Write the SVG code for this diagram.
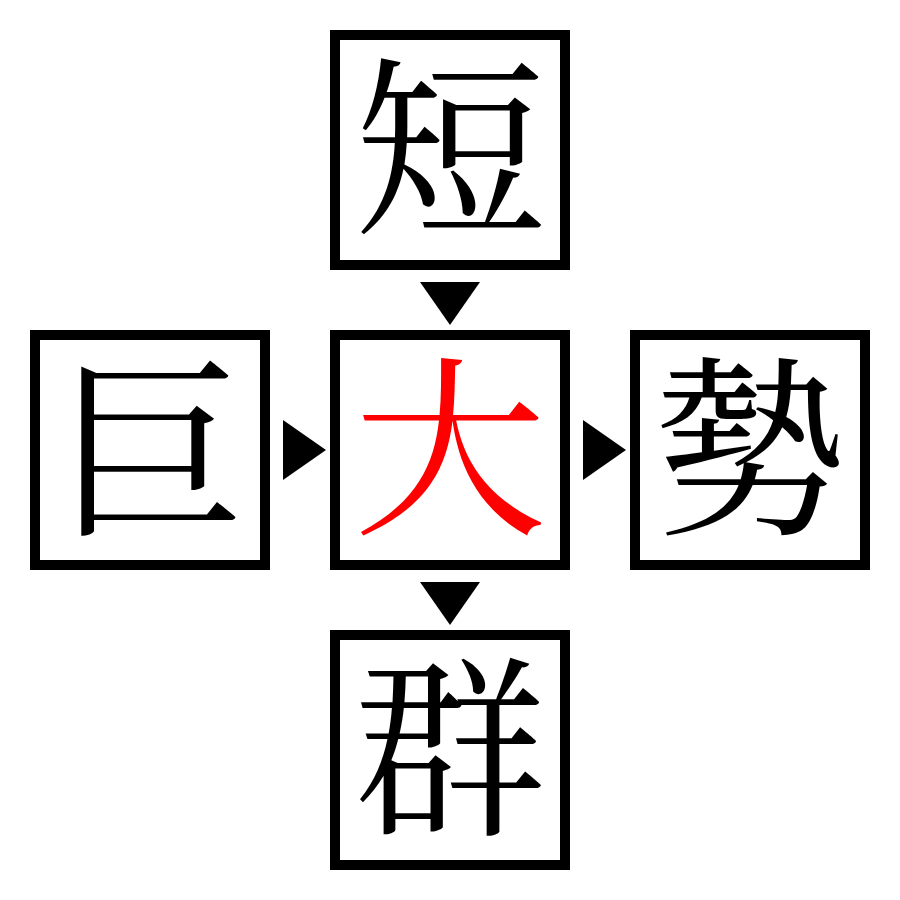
<svg xmlns="http://www.w3.org/2000/svg" width="900" height="900" viewBox="0 0 900 900">
<style>
.box{fill:#fff;stroke:#000;stroke-width:10}
.ch{font-family:"Noto Serif CJK JP","Noto Sans CJK JP",serif;font-size:193px;text-anchor:middle;fill:#000}
.red{fill:#ff0000}
.arr{fill:#000}
</style>
<rect width="900" height="900" fill="#fff"/>
<g id="top"><rect class="box" x="335" y="35" width="230" height="230"/><text class="ch" x="450" y="219.5">短</text></g>
<g id="left"><rect class="box" x="35" y="335" width="230" height="230"/><text class="ch" x="150" y="519.5">巨</text></g>
<g id="center"><rect class="box" x="335" y="335" width="230" height="230"/><text class="ch red" x="450" y="519.5">大</text></g>
<g id="right"><rect class="box" x="635" y="335" width="230" height="230"/><text class="ch" x="750" y="519.5">勢</text></g>
<g id="bottom"><rect class="box" x="335" y="635" width="230" height="230"/><text class="ch" x="450" y="819.5">群</text></g>
<g id="connectors">
<polygon class="arr" points="420,282 480,282 450,325"/>
<polygon class="arr" points="420,582 480,582 450,625"/>
<polygon class="arr" points="283,420 283,480 326,450"/>
<polygon class="arr" points="583,420 583,480 626,450"/>
</g>
</svg>
